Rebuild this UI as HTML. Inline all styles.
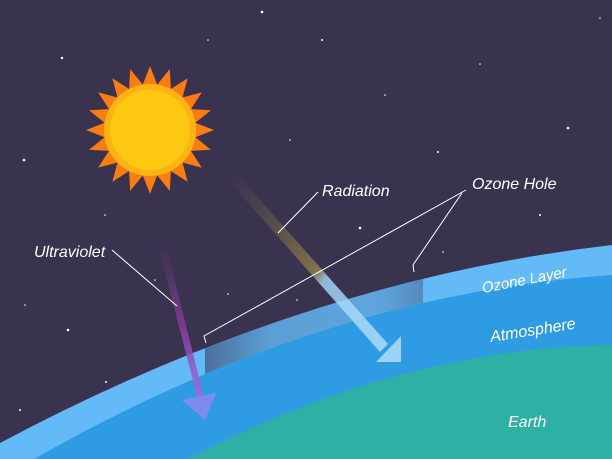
<!DOCTYPE html>
<html><head><meta charset="utf-8"><style>
html,body{margin:0;padding:0;background:#3a3350;}
svg{display:block}
text{font-family:"Liberation Sans",sans-serif;font-style:italic;fill:#fff;}
</style></head><body>
<svg width="612" height="459" viewBox="0 0 612 459">
<defs>
<linearGradient id="uvg" x1="0" y1="0" x2="0" y2="1"><stop offset="0" stop-color="#7a3a8a" stop-opacity="0"/><stop offset="0.5" stop-color="#8a3aa0" stop-opacity="0.8"/><stop offset="1" stop-color="#9a70e0" stop-opacity="0.9"/></linearGradient>
<linearGradient id="radg" x1="0" y1="0" x2="1" y2="1"><stop offset="0" stop-color="#6a5a40" stop-opacity="0"/><stop offset="0.55" stop-color="#8a7a4a" stop-opacity="0.9"/><stop offset="0.6" stop-color="#a8d8f8" stop-opacity="0.8"/><stop offset="1" stop-color="#a8d8f8" stop-opacity="0.9"/></linearGradient>
<linearGradient id="holeg" x1="0" y1="0" x2="1" y2="0"><stop offset="0" stop-color="#3a3350" stop-opacity="0.55"/><stop offset="0.3" stop-color="#3a3350" stop-opacity="0.2"/><stop offset="0.8" stop-color="#3a3350" stop-opacity="0.15"/><stop offset="1" stop-color="#3a3350" stop-opacity="0.35"/></linearGradient>
<clipPath id="ozclip"><path d="M0,443 Q306,280 612,245 L612,275 Q306,295 0,479 Z"/></clipPath>
</defs>
<rect width="612" height="459" fill="#3a3350"/>
<g fill="#fff">
<circle cx="262" cy="12" r="1.3"/><circle cx="322" cy="40" r="1"/><circle cx="62" cy="58" r="1.2"/><circle cx="480" cy="64" r="0.8"/><circle cx="568" cy="128" r="1.3"/><circle cx="24" cy="160" r="1.3"/><circle cx="438" cy="152" r="1"/><circle cx="360" cy="228" r="1.3"/><circle cx="540" cy="215" r="1"/><circle cx="68" cy="330" r="1.3"/><circle cx="106" cy="382" r="1"/><circle cx="20" cy="410" r="1"/><circle cx="155" cy="280" r="0.8"/><circle cx="228" cy="294" r="0.8"/><circle cx="297" cy="300" r="0.8"/><circle cx="443" cy="252" r="0.8"/><circle cx="25" cy="305" r="0.8"/><circle cx="208" cy="40" r="0.8"/><circle cx="105" cy="215" r="0.8"/><circle cx="385" cy="95" r="0.8"/><circle cx="600" cy="18" r="0.8"/><circle cx="290" cy="140" r="0.8"/>
</g>
<g id="sun"></g>
<path d="M0,443 Q306,280 612,245 L612,459 L0,459 Z" fill="#64b9f7"/>
<rect x="205" y="250" width="218" height="150" fill="url(#holeg)" clip-path="url(#ozclip)"/>
<path d="M0,479 Q306,295 612,275 L612,459 L0,459 Z" fill="#2f9be3"/>
<path d="M150,480 Q381,348 612,345 L612,459 L150,459 Z" fill="#2eb0a4"/>
<g>
<path d="M158,245 L166,245 L204,398 L198,400 Z" fill="url(#uvg)"/>
<path d="M182,400 L216,393 L205,420 Z" fill="#8c88f0" opacity="0.85"/>
</g>
<g>
<path d="M228,180 L237,174 L388,344 L380,352 Z" fill="url(#radg)"/>
<path d="M376,362 L401,362 L401,336 Z" fill="#a8d8f8" opacity="0.9"/>
</g>
<g stroke="#fff" stroke-width="1" fill="none">
<path d="M112,250 L177,306"/>
<path d="M318,192 L278,233"/>
<path d="M466,190 L204,336 L206,343"/>
<path d="M462,193 L413,265 L414,272"/>
</g>
<text x="34" y="257" font-size="16">Ultraviolet</text>
<text x="322" y="196" font-size="16">Radiation</text>
<text x="472" y="189" font-size="16">Ozone Hole</text>
<text x="483" y="293" font-size="15" transform="rotate(-11 483 293)">Ozone Layer</text>
<text x="491" y="342" font-size="16" transform="rotate(-9 491 342)">Atmosphere</text>
<text x="508" y="427" font-size="16">Earth</text>
</svg>
<script>
var sun=document.getElementById('sun');
var ns='http://www.w3.org/2000/svg';
var cx=150,cy=130,n=20,pts=[];
for(var i=0;i<n*2;i++){var a=Math.PI*i/n-Math.PI/2;var r=(i%2==0)?64:46;pts.push((cx+r*Math.cos(a)).toFixed(1)+','+(cy+r*Math.sin(a)).toFixed(1));}
var p=document.createElementNS(ns,'polygon');p.setAttribute('points',pts.join(' '));p.setAttribute('fill','#fb7d12');


sun.appendChild(p);
var c1=document.createElementNS(ns,'circle');c1.setAttribute('cx',cx);c1.setAttribute('cy',cy);c1.setAttribute('r',46);c1.setAttribute('fill','#fcb414');


sun.appendChild(c1);
var c2=document.createElementNS(ns,'circle');c2.setAttribute('cx',cx);c2.setAttribute('cy',cy);c2.setAttribute('r',40);c2.setAttribute('fill','#fec812');


sun.appendChild(c2);
</script>
</body></html>
